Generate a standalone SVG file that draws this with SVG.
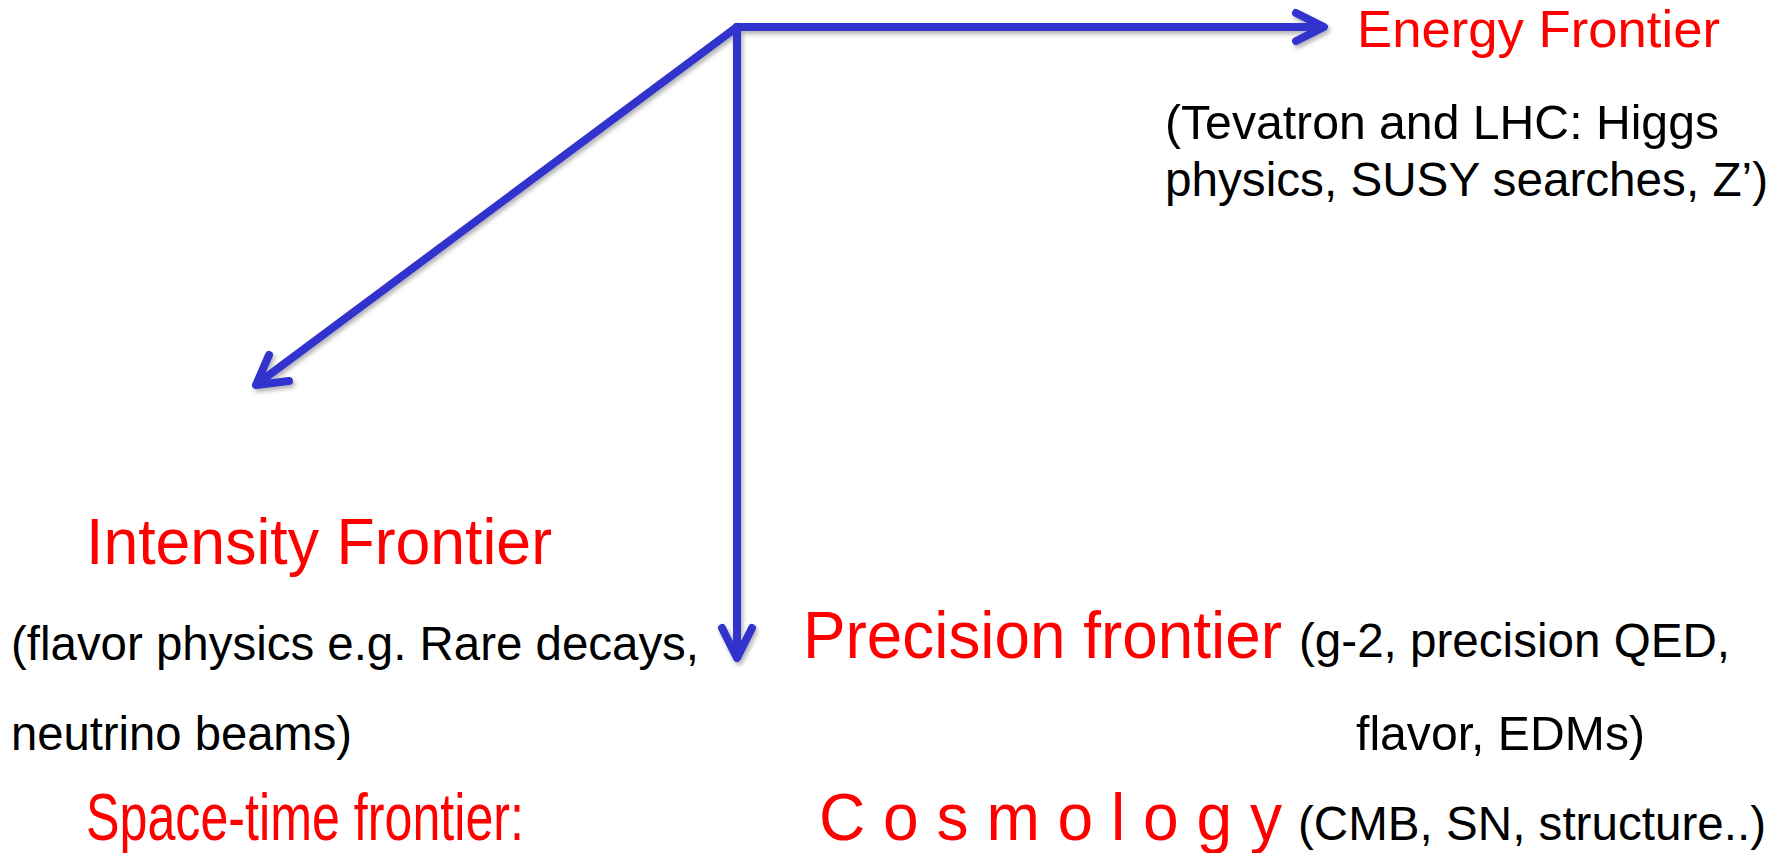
<svg xmlns="http://www.w3.org/2000/svg" width="1791" height="853" viewBox="0 0 1791 853">
<style>
.red{fill:#FF0000;font-family:"Liberation Sans",Arial,sans-serif;font-size:64px}
.blk{fill:#000000;font-family:"Liberation Sans",Arial,sans-serif;font-size:48px}
.arr{fill:none;stroke:#3333CC;stroke-width:8;stroke-linecap:round;stroke-linejoin:round}
</style>
<defs>
<filter id="sh" x="-10%" y="-10%" width="120%" height="120%">
<feDropShadow dx="2" dy="3" stdDeviation="2" flood-color="#000000" flood-opacity="0.3"/>
</filter>
</defs>
<rect width="1791" height="853" fill="#FFFFFF"/>
<g id="connectors" filter="url(#sh)">
<path class="arr" d="M737,27 L1322,27 M1296,13 L1324,27 L1296,41"/>
<path class="arr" d="M737,27 L737,657 M722,628 L737,658 L752,628"/>
<path class="arr" d="M737,27 L257,384 M269,355 L256,385 L289,381"/>
</g>
<g id="energy">
<text class="red" x="1357" y="47" style="font-size:52px" textLength="363" lengthAdjust="spacingAndGlyphs">Energy Frontier</text>
<text class="blk" x="1165" y="139" textLength="554" lengthAdjust="spacingAndGlyphs">(Tevatron and LHC: Higgs</text>
<text class="blk" x="1165" y="196" textLength="603" lengthAdjust="spacingAndGlyphs">physics, SUSY searches, Z’)</text>
</g>
<g id="intensity">
<text class="red" x="86" y="564" textLength="466" lengthAdjust="spacingAndGlyphs">Intensity Frontier</text>
<text class="blk" x="11" y="660" textLength="688" lengthAdjust="spacingAndGlyphs">(flavor physics e.g. Rare decays,</text>
<text class="blk" x="11" y="750" textLength="341" lengthAdjust="spacingAndGlyphs">neutrino beams)</text>
</g>
<g id="precision">
<text class="red" x="803" y="658" style="font-size:66px" textLength="479" lengthAdjust="spacingAndGlyphs">Precision frontier</text>
<text class="blk" x="1299" y="657" textLength="431" lengthAdjust="spacingAndGlyphs">(g-2, precision QED,</text>
<text class="blk" x="1356" y="750" textLength="289" lengthAdjust="spacingAndGlyphs">flavor, EDMs)</text>
</g>
<g id="spacetime">
<text class="red" x="86" y="840" style="font-size:67px" textLength="438" lengthAdjust="spacingAndGlyphs">Space-time frontier:</text>
</g>
<g id="cosmology">
<text class="red" x="819" y="840" style="font-size:66px" textLength="463" lengthAdjust="spacingAndGlyphs">C o s m o l o g y</text>
<text class="blk" x="1298" y="840" textLength="468" lengthAdjust="spacingAndGlyphs">(CMB, SN, structure..)</text>
</g>
</svg>
